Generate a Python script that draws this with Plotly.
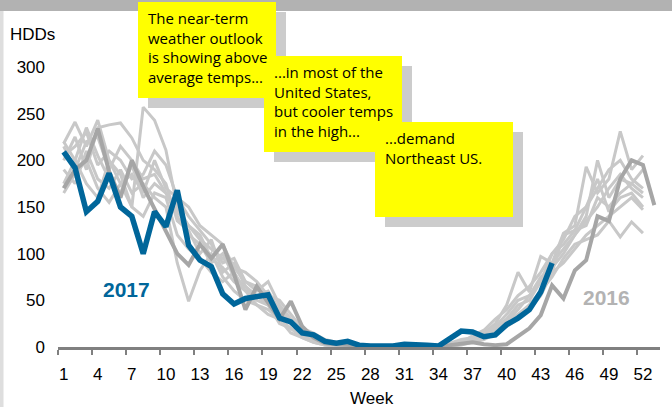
import plotly.graph_objects as go

weeks_2017 = list(range(1, 45))
hdd_2017 = [209, 192, 145, 156, 186, 150, 140, 100, 145, 129, 168, 109, 93, 86, 57, 46, 52, 54, 56, 31,
            27, 15, 13, 6, 4, 6, 2, 1, 1, 1, 3, 3, 2, 1, 9, 17, 16, 11, 13, 24, 31, 40, 59, 90]

weeks_2016 = list(range(1, 54))
hdd_2016 = [170, 190, 200, 234, 188, 160, 200, 172, 148, 125, 100, 88, 110, 95, 110, 78, 40, 65, 48, 30,
            49, 22, 10, 4, 3, 2, 1, 0, 0, 0, 0, 1, 0, 1, 2, 3, 5, 3, 2, 3, 12, 20, 34, 66, 52, 82, 93, 140,
            135, 180, 200, 195, 152]

weeks_hist = list(range(1, 53))
hist_a = [220, 200, 175, 160, 200, 185, 150, 257, 243, 211, 150, 130, 120, 95, 85, 70, 60, 55, 45, 35,
          25, 15, 8, 5, 3, 2, 1, 0, 0, 0, 0, 0, 1, 2, 4, 8, 10, 15, 25, 45, 80, 59, 97, 90, 122, 130,
          193, 165, 180, 231, 190, 205]
hist_b = [218, 241, 215, 243, 200, 175, 185, 165, 200, 170, 160, 140, 125, 110, 90, 95, 70, 60, 70, 45,
          30, 20, 12, 6, 3, 1, 0, 0, 0, 0, 0, 0, 0, 1, 3, 5, 8, 12, 20, 30, 45, 50, 70, 100, 110, 125,
          130, 160, 150, 165, 175, 165]
hist_c = [200, 225, 190, 235, 238, 240, 224, 200, 190, 175, 135, 125, 100, 115, 80, 90, 65, 55, 60, 40,
          25, 15, 10, 3, 2, 1, 0, 0, 0, 0, 0, 0, 0, 1, 2, 5, 12, 18, 30, 40, 55, 65, 80, 100, 115, 140,
          150, 180, 145, 160, 165, 150]
hist_d = [190, 175, 210, 180, 170, 190, 165, 175, 160, 150, 90, 49, 82, 100, 75, 60, 50, 45, 40, 30,
          15, 10, 5, 2, 1, 0, 0, 0, 0, 0, 0, 0, 0, 0, 1, 3, 6, 10, 15, 22, 30, 45, 60, 75, 95, 110,
          115, 120, 135, 118, 134, 122]
hist_e = [205, 215, 230, 195, 210, 200, 180, 185, 210, 195, 160, 150, 130, 120, 110, 85, 80, 70, 55, 50,
          35, 20, 15, 8, 5, 3, 2, 0, 0, 0, 0, 0, 1, 1, 3, 6, 9, 14, 22, 35, 50, 55, 75, 85, 100, 120,
          140, 200, 160, 180, 175, 190]
hist_f = [175, 200, 235, 205, 180, 165, 195, 160, 175, 165, 140, 120, 110, 90, 100, 75, 65, 50, 45, 25,
          20, 12, 6, 3, 1, 0, 0, 0, 0, 0, 0, 0, 0, 0, 1, 2, 5, 8, 14, 25, 35, 40, 55, 80, 90, 105,
          120, 130, 140, 150, 160, 147]
hist_g = [165, 185, 200, 170, 155, 175, 150, 140, 165, 160, 120, 105, 95, 80, 70, 80, 60, 45, 35, 30,
          20, 10, 5, 2, 1, 0, 0, 0, 0, 0, 0, 0, 0, 1, 2, 4, 7, 10, 15, 25, 35, 45, 60, 80, 120, 125,
          150, 170, 190, 200, 180, 170]
hist_h = [215, 190, 220, 225, 190, 215, 200, 180, 185, 165, 145, 130, 115, 105, 95, 85, 70, 65, 50, 42,
          28, 18, 10, 5, 2, 1, 0, 0, 0, 0, 0, 0, 0, 1, 2, 5, 8, 12, 18, 28, 40, 55, 70, 90, 105, 120,
          135, 150, 170, 185, 170, 160]
history = [hist_a, hist_b, hist_c, hist_d, hist_e, hist_f, hist_g, hist_h]

x_tick_vals = list(range(1, 53, 3))
x_tick_text = [str(v) for v in x_tick_vals]
y_tick_vals = [0, 50, 100, 150, 200, 250, 300]

notes = [
    "The near-term<br>weather outlook<br>is showing above<br>average temps...",
    "...in most of the<br>United States,<br>but cooler temps<br>in the high...",
    "...demand<br>Northeast US.",
]

W, H = 672, 407
ML, MR, MT, MB = 58, 12, 67, 60
PW, PH = W - ML - MR, H - MT - MB


def px(xp):
    return (xp - ML) / PW


def py(yp):
    return (H - MB - yp) / PH


LIGHT = "#c8c8c8"
DARK = "#a6a6a6"
BLUE = "#00669a"

fig = go.Figure()
for s in history:
    fig.add_trace(go.Scatter(x=weeks_hist, y=s, mode="lines",
                             line=dict(color=LIGHT, width=3), hoverinfo="skip", showlegend=False))
fig.add_trace(go.Scatter(x=weeks_2016, y=hdd_2016, mode="lines",
                         line=dict(color=DARK, width=4), showlegend=False))
fig.add_trace(go.Scatter(x=weeks_2017, y=hdd_2017, mode="lines",
                         line=dict(color=BLUE, width=5.5), showlegend=False))

shapes = []
# top bar and left strip
shapes.append(dict(type="rect", xref="paper", yref="paper", x0=px(0), x1=px(W), y0=py(11), y1=py(0),
                   fillcolor="#b2b2b2", line=dict(width=0), layer="above"))
shapes.append(dict(type="rect", xref="paper", yref="paper", x0=px(0), x1=px(3.5), y0=py(H), y1=py(11),
                   fillcolor="#dedede", line=dict(width=0), layer="above"))

boxes = [
    (138, 276, 2, 98),
    (264, 402, 56, 152),
    (375, 513, 122, 217),
]
for (x0, x1, y0, y1) in boxes:
    shapes.append(dict(type="rect", xref="paper", yref="paper",
                       x0=px(x0 + 10), x1=px(x1 + 10), y0=py(y1 + 10), y1=py(y0 + 10),
                       fillcolor="#cccccc", line=dict(width=0), layer="above"))
    shapes.append(dict(type="rect", xref="paper", yref="paper",
                       x0=px(x0), x1=px(x1), y0=py(y1), y1=py(y0),
                       fillcolor="#ffff00", line=dict(width=0), layer="above"))

text_pos = [(146, 47.5), (272, 101.3), (383, 147.8)]
annotations = []
for t, (tx, ty) in zip(notes, text_pos):
    annotations.append(dict(text=t, xref="paper", yref="paper", x=px(tx), y=py(ty),
                            xanchor="left", yanchor="middle", align="left", showarrow=False,
                            font=dict(family="Comic Sans MS, Open Sans", size=15, color="#000000")))

annotations.append(dict(text="HDDs", xref="paper", yref="paper", x=px(8), y=py(35),
                        xanchor="left", yanchor="middle", showarrow=False,
                        font=dict(family="Arial, Liberation Sans", size=17, color="#000000")))
annotations.append(dict(text="Week", xref="paper", yref="paper", x=px(372), y=py(398),
                        xanchor="center", yanchor="middle", showarrow=False,
                        font=dict(family="Arial, Liberation Sans", size=17, color="#000000")))
annotations.append(dict(text="<b>2017</b>", x=6.55, y=61.5, xref="x", yref="y",
                        xanchor="center", yanchor="middle", showarrow=False,
                        font=dict(family="Arial, Liberation Sans", size=21, color=BLUE)))
annotations.append(dict(text="<b>2016</b>", x=48.8, y=53, xref="x", yref="y",
                        xanchor="center", yanchor="middle", showarrow=False,
                        font=dict(family="Arial, Liberation Sans", size=21, color="#b3b3b3")))

fig.update_layout(
    width=W, height=H,
    margin=dict(l=ML, r=MR, t=MT, b=MB, pad=0),
    paper_bgcolor="white", plot_bgcolor="white",
    shapes=shapes, annotations=annotations,
    font=dict(family="Arial, Liberation Sans", size=17, color="#000000"),
    xaxis=dict(range=[0.5, 53.5], tickmode="array", tickvals=x_tick_vals, ticktext=x_tick_text,
               ticks="", showgrid=False, zeroline=False, showline=True, linecolor="#808080",
               linewidth=3, ticklabelstandoff=10,
               tickfont=dict(family="Arial, Liberation Sans", size=17, color="#000000"),
               minor=dict(tickmode="linear", tick0=0.5, dtick=3, ticks="outside", ticklen=5,
                          tickwidth=2, tickcolor="#808080", showgrid=False)),
    yaxis=dict(range=[0, 300], tickmode="array", tickvals=y_tick_vals, ticks="", showgrid=False,
               zeroline=False, showline=False, ticklabelstandoff=12,
               tickfont=dict(family="Arial, Liberation Sans", size=17, color="#000000")),
)

fig.write_html("out.html", config={"displayModeBar": False},
               post_script="document.body.style.margin='0';document.body.style.overflow='hidden';")
